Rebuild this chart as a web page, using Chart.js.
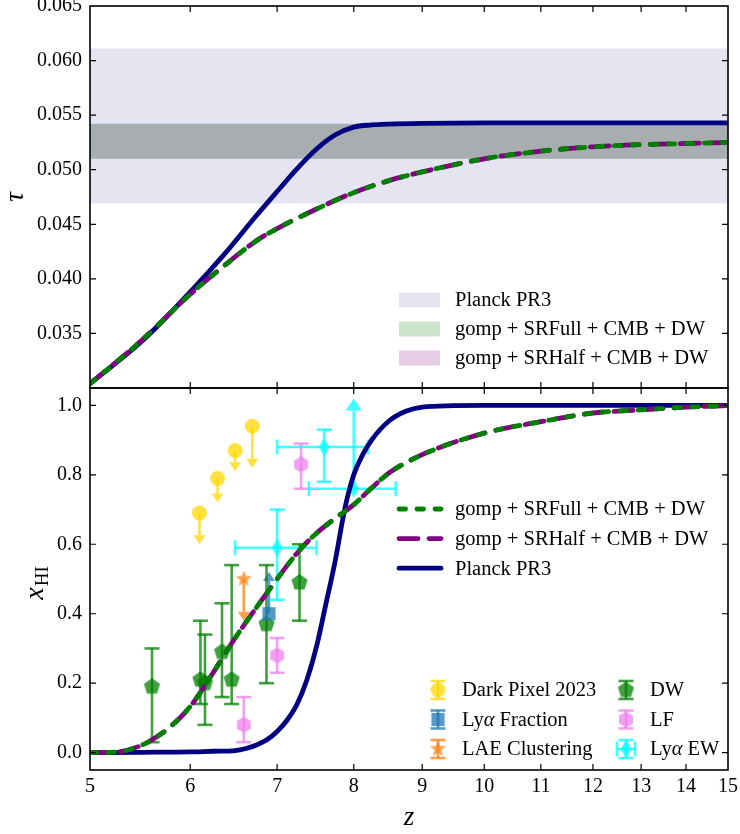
<!DOCTYPE html>
<html>
<head>
<meta charset="utf-8">
<title>Optical depth and neutral fraction</title>
<script src="https://cdn.jsdelivr.net/npm/chart.js@4.4.1/dist/chart.umd.min.js"></script>
<style>
  html, body { margin: 0; padding: 0; background: #fff; }
  #wrap { position: relative; width: 740px; height: 834px; overflow: hidden; }
  #wrap canvas { position: absolute; left: 0; }
  #tauChart { top: -20px; }
  #xhiChart { top: 368px; }
</style>
</head>
<body>
<div id="wrap">
  <canvas id="tauChart" width="760" height="428"></canvas>
  <canvas id="xhiChart" width="760" height="466"></canvas>
</div>
<script>
const SERIF = "'Liberation Serif', 'DejaVu Serif', serif";

// x axis: redshift, plotted on log(1+z)
const zTicks = [5, 6, 7, 8, 9, 10, 11, 12, 13, 14, 15];

// optical depth tau(z)
const tauTicks = [0.030, 0.035, 0.040, 0.045, 0.050, 0.055, 0.060, 0.065];
const tauZPlanck = [5, 5.5, 6, 6.36, 6.75, 7, 7.25, 7.5, 7.75, 8, 8.25, 8.5, 9, 10, 12, 15];
const tauPlanck = [0.0304, 0.0343, 0.0388, 0.0421, 0.0458, 0.0480, 0.0501, 0.0519, 0.0532, 0.0539, 0.0541, 0.05418, 0.05425, 0.0543, 0.0543, 0.0543];
const tauZGomp = [5, 5.5, 6, 6.36, 6.75, 7, 7.5, 8, 8.5, 9, 10, 11, 12, 13, 14, 15];
const tauSRFull = [0.0304, 0.0344, 0.0386, 0.0411, 0.0435, 0.0446, 0.0464, 0.0479, 0.0490, 0.0498, 0.0510, 0.0517, 0.0521, 0.0523, 0.0524, 0.0525];
const tauSRHalf = [0.0304, 0.0344, 0.0386, 0.0411, 0.0435, 0.0446, 0.0464, 0.0479, 0.0490, 0.0498, 0.0510, 0.0517, 0.0521, 0.0523, 0.0524, 0.0525];

// 68% ranges on tau
const planckBand = [0.0469, 0.0611];
const srFullBand = [0.0510, 0.0542];
const srHalfBand = [0.0510, 0.0542];

// neutral fraction x_HI(z)
const xhiTicks = [0, 0.2, 0.4, 0.6, 0.8, 1.0];
const xhiZPlanck = [5, 5.5, 6, 6.25, 6.5, 6.625, 6.75, 6.875, 7, 7.125, 7.25, 7.375, 7.5, 7.625, 7.75, 7.875, 8, 8.125, 8.25, 8.5, 8.75, 9, 9.5, 10, 12, 15];
const xhiPlanck = [0.000, 0.001, 0.002, 0.004, 0.006, 0.012, 0.022, 0.037, 0.061, 0.094, 0.140, 0.210, 0.306, 0.430, 0.555, 0.700, 0.800, 0.858, 0.900, 0.955, 0.983, 0.995, 0.999, 1.0, 1.0, 1.0];
const xhiZGomp = [5, 5.25, 5.5, 5.75, 6, 6.25, 6.5, 6.75, 7, 7.25, 7.5, 7.75, 8, 8.25, 8.5, 9, 10, 11, 12, 13, 14, 15];
const xhiSRFull = [0.000, 0.002, 0.022, 0.066, 0.133, 0.230, 0.330, 0.418, 0.500, 0.575, 0.632, 0.675, 0.714, 0.762, 0.805, 0.858, 0.920, 0.953, 0.978, 0.987, 0.995, 0.999];
const xhiSRHalf = [0.000, 0.002, 0.022, 0.066, 0.133, 0.230, 0.330, 0.418, 0.500, 0.575, 0.632, 0.675, 0.714, 0.762, 0.805, 0.858, 0.920, 0.953, 0.978, 0.987, 0.995, 0.999];

// observational constraints (errLo/errHi are the lower/upper error bar lengths)
const darkPixelZ = [6.1, 6.3, 6.5, 6.7];
const darkPixelX = [0.69, 0.79, 0.87, 0.94];
const darkPixelErrLo = [0.09, 0.07, 0.06, 0.12];          // upper limits

const lyaFracZ = [6.9];
const lyaFracX = [0.40];
const lyaFracErrHi = [0.12];                              // lower limit

const laeZ = [6.6];
const laeX = [0.50];
const laeErrLo = [0.12];                                  // upper limit

const dwZ = [5.6, 6.11, 6.16, 6.35, 6.46, 6.87, 7.28];
const dwX = [0.19, 0.21, 0.20, 0.29, 0.21, 0.37, 0.49];
const dwErrLo = [0.16, 0.07, 0.12, 0.13, 0.07, 0.17, 0.11];
const dwErrHi = [0.11, 0.17, 0.14, 0.14, 0.33, 0.17, 0.11];

const lfZ = [6.6, 7.0, 7.3];
const lfX = [0.08, 0.28, 0.83];
const lfErrLo = [0.05, 0.05, 0.07];
const lfErrHi = [0.08, 0.05, 0.06];

const ewZ = [7.0, 7.6, 8.0];
const ewX = [0.59, 0.88, 0.76];
const ewErrZ = [0.5, 0.6, 0.6];
const ewErrLo = [0.15, 0.10, 0];
const ewErrHi = [0.11, 0.05, 0.26];
const ewLimits = ['', '', 'lower'];

const GREEN = '#008000', PURPLE = '#800080', NAVY = '#000080';
const PLANCK_FILL = 'rgba(0,0,128,0.1)';
const FULL_FILL = 'rgba(0,128,0,0.2)';
const HALF_FILL = 'rgba(128,0,128,0.2)';
const LW = 4.8;
const DASH_FULL = [6.5, 11.5], DASH_HALF = [19, 11];

const toPts = (zs, vs) => zs.map((z, i) => ({ x: 1 + z, y: vs[i] }));

function curve(label, zs, vs, color, dash, order) {
  return {
    label, data: toPts(zs, vs), showLine: true, borderColor: color, borderWidth: LW,
    borderDash: dash, borderCapStyle: 'round', borderJoinStyle: 'round', pointRadius: 0,
    cubicInterpolationMode: 'monotone', order
  };
}

// a horizontal band across the whole z range, as two flat lines filled between
function band(range, color, order) {
  const flat = v => [{ x: 6, y: v }, { x: 16, y: v }];
  return [
    { data: flat(range[0]), showLine: true, borderWidth: 0, borderColor: 'transparent', pointRadius: 0, fill: false, order },
    { data: flat(range[1]), showLine: true, borderWidth: 0, borderColor: 'transparent', pointRadius: 0, fill: '-1', backgroundColor: color, order }
  ];
}

function markerImage(shape, color, size) {
  const c = document.createElement('canvas');
  c.width = c.height = Math.ceil(size) + 4;
  const g = c.getContext('2d');
  g.translate(c.width / 2, c.height / 2);
  const r = size / 2;
  g.beginPath();
  if (shape === 'circle') g.arc(0, 0, r, 0, Math.PI * 2);
  else if (shape === 'square') g.rect(-r * 0.88, -r * 0.88, r * 1.76, r * 1.76);
  else if (shape === 'diamond') { g.moveTo(0, -r); g.lineTo(r * 0.62, 0); g.lineTo(0, r); g.lineTo(-r * 0.62, 0); }
  else {
    const n = shape === 'pentagon' ? 5 : shape === 'hexagon' ? 6 : 10;
    for (let k = 0; k < n; k++) {
      const ang = -Math.PI / 2 + k * 2 * Math.PI / n;
      const rr = shape === 'star' && k % 2 ? r * 0.42 : r;
      g.lineTo(rr * Math.cos(ang), rr * Math.sin(ang));
    }
  }
  g.closePath();
  g.fillStyle = color;
  g.fill();
  return c;
}

function points(label, zs, vs, shape, rgb, size, extra) {
  const col = `rgba(${rgb},0.75)`;
  return Object.assign({
    label, data: toPts(zs, vs), pointStyle: markerImage(shape, col, size),
    pointRadius: 7, errColor: col, headW: 12, headL: 9, order: 20
  }, extra);
}

// ---- drawing helpers ----
function seg(ctx, x1, y1, x2, y2) {
  ctx.beginPath(); ctx.moveTo(x1, y1); ctx.lineTo(x2, y2); ctx.stroke();
}
function arrow(ctx, x, y0, y1, w, l) {
  const s = y1 > y0 ? 1 : -1;
  seg(ctx, x, y0, x, y1 - s * l);
  ctx.beginPath();
  ctx.moveTo(x - w / 2, y1 - s * l); ctx.lineTo(x + w / 2, y1 - s * l); ctx.lineTo(x, y1);
  ctx.closePath(); ctx.fill();
}
function vBar(ctx, x, yTop, yBot, cap) {
  seg(ctx, x, yTop, x, yBot);
  seg(ctx, x - cap, yTop, x + cap, yTop);
  seg(ctx, x - cap, yBot, x + cap, yBot);
}
function hBar(ctx, xl, xr, y, cap) {
  seg(ctx, xl, y, xr, y);
  seg(ctx, xl, y - cap, xl, y + cap);
  seg(ctx, xr, y - cap, xr, y + cap);
}
// labels with an italic alpha
function drawLabel(ctx, text, x, y, size) {
  const parts = text.split('α');
  let cx = x;
  parts.forEach((p, i) => {
    ctx.font = `${size}px ${SERIF}`;
    ctx.fillText(p, cx, y);
    cx += ctx.measureText(p).width;
    if (i < parts.length - 1) {
      ctx.font = `italic ${size}px ${SERIF}`;
      ctx.fillText('α', cx, y);
      cx += ctx.measureText('α').width;
    }
  });
}

// inward ticks on all four sides plus the frame
const frameTicks = {
  id: 'frameTicks',
  afterDraw(chart) {
    const { ctx, chartArea: a, scales: { x, y } } = chart;
    const len = 6;
    ctx.save();
    ctx.strokeStyle = '#000';
    ctx.lineWidth = 1.2;
    ctx.beginPath();
    x.ticks.forEach(t => {
      const px = x.getPixelForValue(t.value);
      if (px <= a.left + 1 || px >= a.right - 1) return;
      ctx.moveTo(px, a.top); ctx.lineTo(px, a.top + len);
      ctx.moveTo(px, a.bottom); ctx.lineTo(px, a.bottom - len);
    });
    y.ticks.forEach(t => {
      const py = y.getPixelForValue(t.value);
      if (py <= a.top + 1 || py >= a.bottom - 1) return;
      ctx.moveTo(a.left, py); ctx.lineTo(a.left + len, py);
      ctx.moveTo(a.right, py); ctx.lineTo(a.right - len, py);
    });
    ctx.stroke();
    ctx.lineWidth = 1.6;
    ctx.strokeRect(a.left, a.top, a.right - a.left, a.bottom - a.top);
    ctx.restore();
  }
};

// error bars and limit arrows, drawn under the markers
const errorBars = {
  id: 'errorBars',
  beforeDatasetsDraw(chart) {
    const { ctx, chartArea: a, scales: { x: sx, y: sy } } = chart;
    ctx.save();
    ctx.beginPath(); ctx.rect(a.left, a.top, a.right - a.left, a.bottom - a.top); ctx.clip();
    ctx.lineWidth = 2.6;
    const cap = 7.5;
    chart.data.datasets.forEach(ds => {
      if (!ds.errColor) return;
      ctx.strokeStyle = ds.errColor;
      ctx.fillStyle = ds.errColor;
      ds.data.forEach((p, j) => {
        const px = sx.getPixelForValue(p.x), py = sy.getPixelForValue(p.y);
        if (ds.errZ) {
          hBar(ctx, sx.getPixelForValue(p.x - ds.errZ[j]), sx.getPixelForValue(p.x + ds.errZ[j]), py, cap);
        }
        const lim = ds.limits ? ds.limits[j] : '';
        if (lim === 'upper') {
          arrow(ctx, px, py, sy.getPixelForValue(p.y - ds.errLo[j]), ds.headW, ds.headL);
        } else if (lim === 'lower') {
          arrow(ctx, px, py, sy.getPixelForValue(p.y + ds.errHi[j]), ds.headW, ds.headL);
        } else if (ds.errLo) {
          vBar(ctx, px, sy.getPixelForValue(p.y + ds.errHi[j]), sy.getPixelForValue(p.y - ds.errLo[j]), cap);
        }
      });
    });
    ctx.restore();
  }
};

const tauDecor = {
  id: 'tauDecor',
  afterDraw(chart) {
    const { ctx, chartArea: a } = chart;
    ctx.save();
    ctx.fillStyle = '#000';
    // axis title
    ctx.translate(23, (a.top + a.bottom) / 2);
    ctx.rotate(-Math.PI / 2);
    ctx.textAlign = 'center';
    ctx.font = `italic 27px ${SERIF}`;
    ctx.fillText('τ', 0, 0);
    ctx.restore();
    // legend
    const rows = [
      ['Planck PR3', 'rgb(230,230,242)'],
      ['gomp + SRFull + CMB + DW', 'rgb(204,230,204)'],
      ['gomp + SRHalf + CMB + DW', 'rgb(230,204,230)']
    ];
    ctx.save();
    ctx.textBaseline = 'middle';
    rows.forEach(([label, col], i) => {
      const cy = a.top + 294 + i * 29;
      ctx.fillStyle = col;
      ctx.fillRect(a.left + 309, cy - 7.5, 41, 15);
      ctx.fillStyle = '#000';
      drawLabel(ctx, label, a.left + 365, cy + 1, 20.5);
    });
    ctx.restore();
  }
};

const xhiDecor = {
  id: 'xhiDecor',
  afterDraw(chart) {
    const { ctx, chartArea: a } = chart;
    const byLabel = l => chart.data.datasets.find(d => d.label === l);
    ctx.save();
    ctx.fillStyle = '#000';
    // x axis title
    ctx.textAlign = 'center';
    ctx.font = `italic 27px ${SERIF}`;
    ctx.fillText('z', (a.left + a.right) / 2, a.bottom + 55);
    // y axis title with subscript
    ctx.translate(43, (a.top + a.bottom) / 2 + 4);
    ctx.rotate(-Math.PI / 2);
    ctx.textAlign = 'left';
    ctx.font = `italic 28px ${SERIF}`;
    const wx = ctx.measureText('x').width;
    ctx.font = `19px ${SERIF}`;
    const wh = ctx.measureText('HI').width;
    const x0 = -(wx + wh + 1) / 2;
    ctx.font = `italic 28px ${SERIF}`;
    ctx.fillText('x', x0, 0);
    ctx.font = `19px ${SERIF}`;
    ctx.fillText('HI', x0 + wx + 1, 5);
    ctx.restore();

    // legend for the model curves
    ctx.save();
    ctx.textBaseline = 'middle';
    ['gomp + SRFull + CMB + DW', 'gomp + SRHalf + CMB + DW', 'Planck PR3'].forEach((l, i) => {
      const ds = byLabel(l);
      const cy = a.top + 121 + i * 29.6;
      ctx.strokeStyle = ds.borderColor;
      ctx.lineWidth = ds.borderWidth;
      ctx.lineCap = 'round';
      ctx.setLineDash(ds.borderDash || []);
      seg(ctx, a.left + 309, cy, a.left + 351, cy);
      ctx.setLineDash([]);
      ctx.fillStyle = '#000';
      drawLabel(ctx, l, a.left + 365, cy + 1, 20.5);
    });
    ctx.restore();

    // legend for the data points
    const entries = [
      ['Dark Pixel 2023', 0, 0], ['Lyα Fraction', 0, 1], ['LAE Clustering', 0, 2],
      ['DW', 1, 0], ['LF', 1, 1], ['Lyα EW', 1, 2]
    ];
    ctx.save();
    ctx.textBaseline = 'middle';
    entries.forEach(([l, col, row]) => {
      const ds = byLabel(l);
      const mx = a.left + (col ? 536 : 348);
      const cy = a.top + 302 + row * 29.5;
      ctx.strokeStyle = ds.errColor;
      ctx.lineWidth = 2.6;
      vBar(ctx, mx, cy - 9, cy + 9, 7.5);
      if (ds.errZ) hBar(ctx, mx - 9, mx + 9, cy, 7.5);
      const img = ds.pointStyle;
      ctx.drawImage(img, mx - img.width / 2, cy - img.height / 2);
      ctx.fillStyle = '#000';
      drawLabel(ctx, l, mx + 24, cy + 1, 20.5);
    });
    ctx.restore();
  }
};

function zScale(showLabels) {
  return {
    type: 'logarithmic', min: 6, max: 16, display: showLabels,
    afterBuildTicks: s => { s.ticks = zTicks.map(z => ({ value: 1 + z })); },
    afterFit: s => { if (showLabels) s.height = 64; },
    grid: { display: false, drawTicks: false }, border: { display: false },
    ticks: {
      autoSkip: false, maxRotation: 0, padding: 5, color: '#000',
      font: { family: SERIF, size: 20 },
      callback: v => String(Math.round(v - 1))
    }
  };
}

const common = {
  responsive: false, animation: false, devicePixelRatio: 1,
  plugins: { legend: { display: false }, tooltip: { enabled: false } },
  events: []
};

new Chart(document.getElementById('tauChart'), {
  type: 'scatter',
  data: {
    datasets: [
      curve('gomp + SRFull + CMB + DW', tauZGomp, tauSRFull, GREEN, DASH_FULL, 1),
      curve('gomp + SRHalf + CMB + DW', tauZGomp, tauSRHalf, PURPLE, DASH_HALF, 2),
      curve('Planck PR3', tauZPlanck, tauPlanck, NAVY, [], 3),
      ...band(planckBand, PLANCK_FILL, 30),
      ...band(srHalfBand, HALF_FILL, 20),
      ...band(srFullBand, FULL_FILL, 10)
    ]
  },
  options: Object.assign({}, common, {
    layout: { padding: { top: 26, bottom: 20, left: 0, right: 32 } },
    scales: {
      x: zScale(false),
      y: {
        type: 'linear', min: 0.030, max: 0.065,
        afterBuildTicks: s => { s.ticks = tauTicks.map(v => ({ value: v })); },
        afterFit: s => { s.width = 90; },
        grid: { display: false, drawTicks: false }, border: { display: false },
        ticks: {
          padding: 8, color: '#000', font: { family: SERIF, size: 20 },
          callback: v => (v < 0.0301 ? '' : v.toFixed(3))
        }
      }
    }
  }),
  plugins: [frameTicks, tauDecor]
});

new Chart(document.getElementById('xhiChart'), {
  type: 'scatter',
  data: {
    datasets: [
      curve('gomp + SRFull + CMB + DW', xhiZGomp, xhiSRFull, GREEN, DASH_FULL, 1),
      curve('gomp + SRHalf + CMB + DW', xhiZGomp, xhiSRHalf, PURPLE, DASH_HALF, 2),
      curve('Planck PR3', xhiZPlanck, xhiPlanck, NAVY, [], 3),
      points('Dark Pixel 2023', darkPixelZ, darkPixelX, 'circle', '255,215,0', 15,
        { errLo: darkPixelErrLo, limits: darkPixelZ.map(() => 'upper') }),
      points('Lyα Fraction', lyaFracZ, lyaFracX, 'square', '31,119,180', 15,
        { errHi: lyaFracErrHi, limits: ['lower'] }),
      points('LAE Clustering', laeZ, laeX, 'star', '255,127,14', 17,
        { errLo: laeErrLo, limits: ['upper'] }),
      points('DW', dwZ, dwX, 'pentagon', '0,128,0', 17, { errLo: dwErrLo, errHi: dwErrHi }),
      points('LF', lfZ, lfX, 'hexagon', '238,130,238', 16, { errLo: lfErrLo, errHi: lfErrHi }),
      points('Lyα EW', ewZ, ewX, 'diamond', '0,255,255', 18,
        { errZ: ewErrZ, errLo: ewErrLo, errHi: ewErrHi, limits: ewLimits, headW: 16, headL: 12 })
    ]
  },
  options: Object.assign({}, common, {
    layout: { padding: { top: 20, bottom: 0, left: 0, right: 32 } },
    scales: {
      x: zScale(true),
      y: {
        type: 'linear', min: -0.05, max: 1.05,
        afterBuildTicks: s => { s.ticks = xhiTicks.map(v => ({ value: v })); },
        afterFit: s => { s.width = 90; },
        grid: { display: false, drawTicks: false }, border: { display: false },
        ticks: {
          padding: 8, color: '#000', font: { family: SERIF, size: 20 },
          callback: v => v.toFixed(1)
        }
      }
    }
  }),
  plugins: [errorBars, frameTicks, xhiDecor]
});
</script>
</body>
</html>
